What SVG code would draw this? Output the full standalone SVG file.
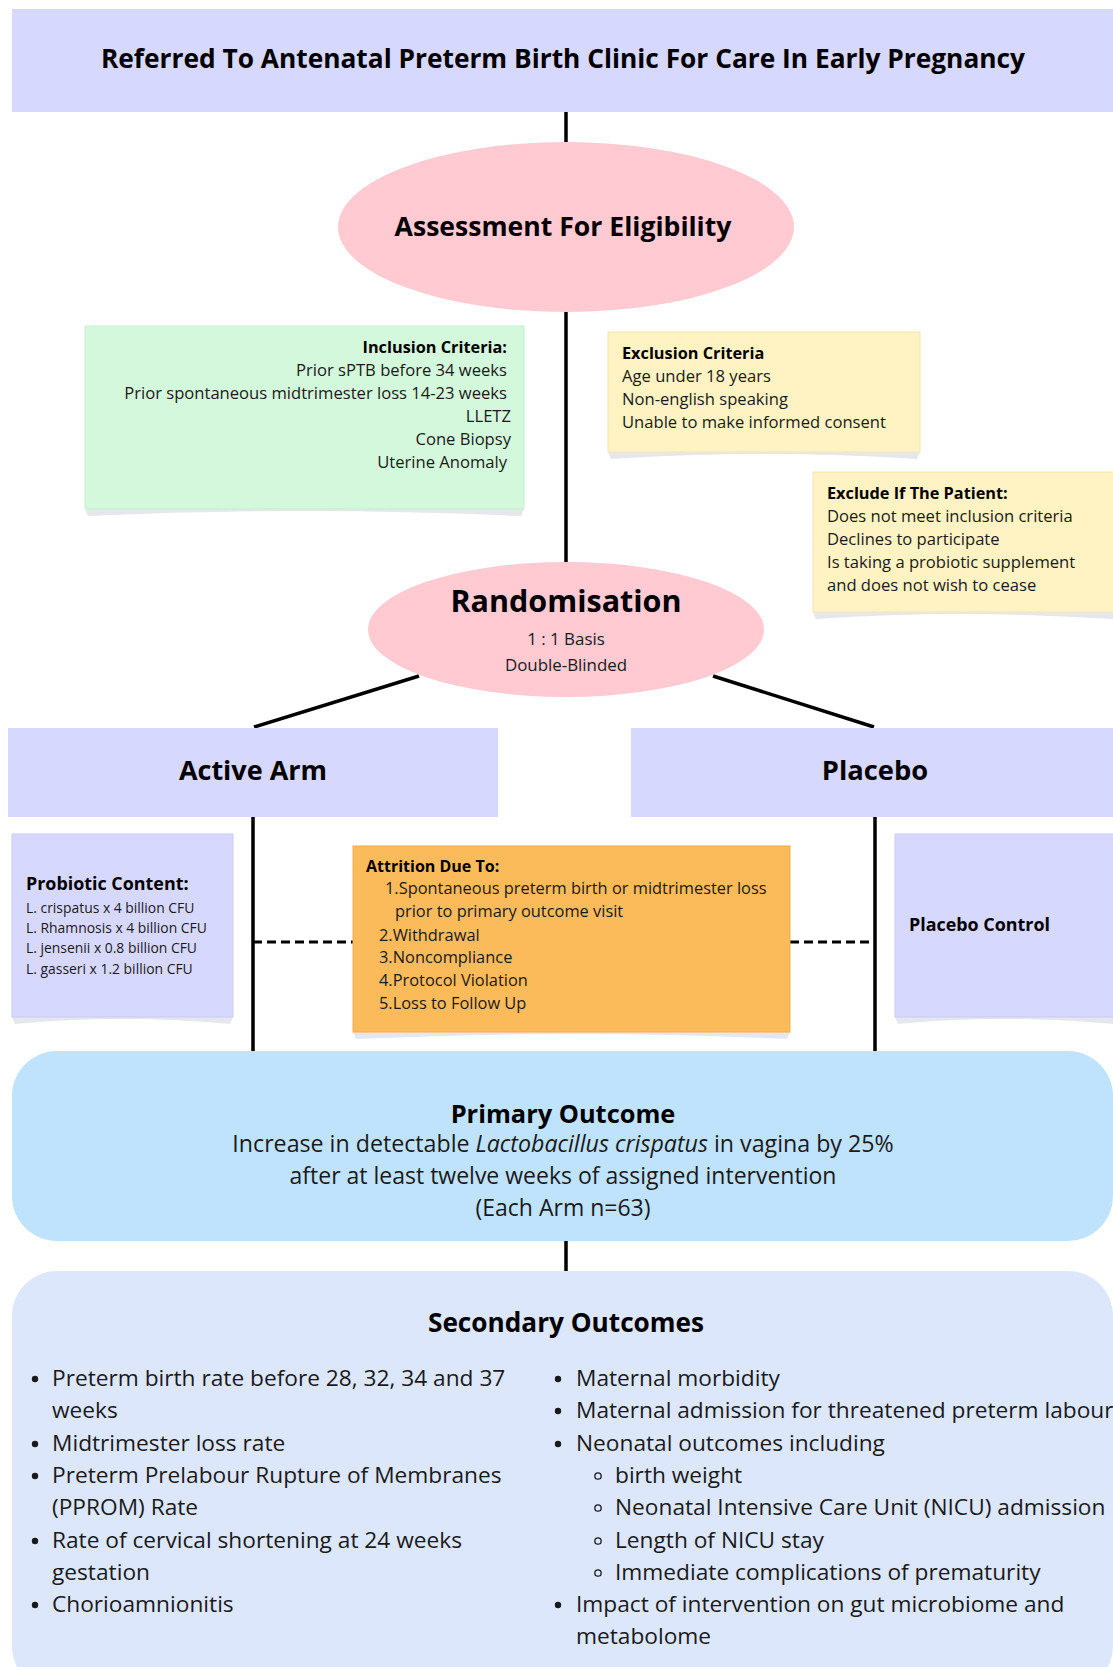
<svg xmlns="http://www.w3.org/2000/svg" width="1113" height="1667" viewBox="0 0 1113 1667">
<style>
text{font-family:"Open Sans","Liberation Sans",Arial,sans-serif;fill:#1a1a1a}
.b{font-weight:bold;fill:#000}
.c{text-anchor:middle}
.e{text-anchor:end}
.ln{stroke:#000;stroke-width:3.5;fill:none}
.dash{stroke:#000;stroke-width:3;stroke-dasharray:9 5;fill:none}
.lav{fill:#D7D8FD}
.pink{fill:#FFCAD2}
.sh{fill:#E6E7EC}
.f16{font-size:16.6px}
.f22{font-size:22.7px}
</style>
<g id="connectors">
<line class="ln" x1="566" y1="112" x2="566" y2="142"/>
<line class="ln" x1="566" y1="312" x2="566" y2="562"/>
<line class="ln" x1="419" y1="676" x2="254" y2="727"/>
<line class="ln" x1="713" y1="676" x2="874" y2="727"/>
<line class="ln" x1="253" y1="817" x2="253" y2="1051"/>
<line class="ln" x1="875" y1="817" x2="875" y2="1051"/>
<line class="dash" x1="253" y1="942" x2="353" y2="942"/>
<line class="dash" x1="790" y1="942" x2="875" y2="942"/>
<line class="ln" x1="566" y1="1241" x2="566" y2="1271"/>
</g>
<g id="referred">
<rect class="lav" x="12" y="9" width="1101" height="103"/>
<text class="b c" x="563" y="68" font-size="26.3">Referred To Antenatal Preterm Birth Clinic For Care In Early Pregnancy</text>
</g>
<g id="assessment">
<ellipse class="pink" cx="566" cy="227" rx="228" ry="85"/>
<text class="b c" x="563" y="236" font-size="26.6">Assessment For Eligibility</text>
</g>
<g id="inclusion">
<path class="sh" d="M85 509 L524 509 L521 516 Q304 506 88 516 Z"/>
<rect x="85" y="326" width="439" height="183" fill="#D4F8DB" stroke="#C6EFCF" stroke-width="1"/>
<text class="b e" x="507" y="353" font-size="16.3">Inclusion Criteria:</text>
<text class="e f16" x="507" y="376">Prior sPTB before 34 weeks</text>
<text class="e f16" x="507" y="399">Prior spontaneous midtrimester loss 14-23 weeks</text>
<text class="e f16" x="511" y="422">LLETZ</text>
<text class="e f16" x="511" y="445">Cone Biopsy</text>
<text class="e f16" x="507" y="468">Uterine Anomaly</text>
</g>
<g id="exclusion">
<path class="sh" d="M608 452 L920 452 L917 459 Q764 449 611 459 Z"/>
<rect x="608" y="332" width="312" height="120" fill="#FFF3C3" stroke="#F5E6AE" stroke-width="1"/>
<text class="b" x="622" y="359" font-size="16.3">Exclusion Criteria</text>
<text class="f16" x="622" y="382">Age under 18 years</text>
<text class="f16" x="622" y="405">Non-english speaking</text>
<text class="f16" x="622" y="428">Unable to make informed consent</text>
</g>
<g id="exclude">
<path class="sh" d="M813 612 L1113 612 L1113 619 Q960 609 816 619 Z"/>
<rect x="813" y="472" width="310" height="140" fill="#FFF3C3" stroke="#F5E6AE" stroke-width="1"/>
<text class="b" x="827" y="499" font-size="16.3">Exclude If The Patient:</text>
<text class="f16" x="827" y="522">Does not meet inclusion criteria</text>
<text class="f16" x="827" y="545">Declines to participate</text>
<text class="f16" x="827" y="568">Is taking a probiotic supplement</text>
<text class="f16" x="827" y="591">and does not wish to cease</text>
</g>
<g id="randomisation">
<ellipse class="pink" cx="566" cy="629.5" rx="198" ry="67.5"/>
<text class="b c" x="566" y="612" font-size="30.5">Randomisation</text>
<text class="c" x="566" y="645" font-size="16.9">1 : 1 Basis</text>
<text class="c" x="566" y="671" font-size="16.9">Double-Blinded</text>
</g>
<g id="active-arm">
<rect class="lav" x="8" y="728" width="490" height="89"/>
<text class="b c" x="253" y="780" font-size="27">Active Arm</text>
</g>
<g id="placebo">
<rect class="lav" x="631" y="728" width="482" height="89"/>
<text class="b c" x="875" y="780" font-size="27.3">Placebo</text>
</g>
<g id="probiotic">
<path class="sh" d="M12 1017 L233 1017 L230 1024 Q122 1014 15 1024 Z"/>
<rect class="lav" x="12" y="834" width="221" height="183" stroke="#C9CBF5" stroke-width="1"/>
<text class="b" x="26" y="890" font-size="17.9">Probiotic Content:</text>
<text x="26" y="913" font-size="13.9">L. crispatus x 4 billion CFU</text>
<text x="26" y="933" font-size="13.9">L. Rhamnosis x 4 billion CFU</text>
<text x="26" y="953" font-size="13.9">L. jensenii x 0.8 billion CFU</text>
<text x="26" y="974" font-size="13.9">L. gasseri x 1.2 billion CFU</text>
</g>
<g id="attrition">
<path class="sh" d="M353 1032 L790 1032 L787 1039 Q571 1029 356 1039 Z"/>
<rect x="353" y="846" width="437" height="186" fill="#FBBB5B" stroke="#F0AE4E" stroke-width="1"/>
<text class="b" x="366" y="872" font-size="16">Attrition Due To:</text>
<g font-size="16.4">
<text x="385" y="894">1.Spontaneous preterm birth or midtrimester loss</text>
<text x="395" y="917">prior to primary outcome visit</text>
<text x="379" y="941">2.Withdrawal</text>
<text x="379" y="963">3.Noncompliance</text>
<text x="379" y="986">4.Protocol Violation</text>
<text x="379" y="1009">5.Loss to Follow Up</text>
</g>
</g>
<g id="placebo-control">
<path class="sh" d="M895 1017 L1113 1017 L1113 1024 Q1000 1014 898 1024 Z"/>
<rect class="lav" x="895" y="834" width="228" height="183" stroke="#C9CBF5" stroke-width="1"/>
<text class="b" x="909" y="931" font-size="17.9">Placebo Control</text>
</g>
<g id="primary-outcome">
<rect x="12" y="1051" width="1101" height="190" rx="45" fill="#BFE3FD"/>
<text class="b c" x="563" y="1123" font-size="25.4">Primary Outcome</text>
<text class="c" x="563" y="1152" font-size="23.2">Increase in detectable <tspan font-style="italic">Lactobacillus crispatus</tspan> in vagina by 25%</text>
<text class="c" x="563" y="1184" font-size="23">after at least twelve weeks of assigned intervention</text>
<text class="c" x="563" y="1216" font-size="23">(Each Arm n=63)</text>
</g>
<g id="secondary-outcomes">
<rect x="12" y="1271" width="1101" height="420" rx="45" fill="#DCE7FB"/>
<text class="b c" x="566" y="1332" font-size="26.2">Secondary Outcomes</text>
<g fill="#1a1a1a">
<circle cx="35" cy="1379" r="3.2"/>
<circle cx="35" cy="1444" r="3.2"/>
<circle cx="35" cy="1476" r="3.2"/>
<circle cx="35" cy="1541" r="3.2"/>
<circle cx="35" cy="1605" r="3.2"/>
<circle cx="558" cy="1379" r="3.2"/>
<circle cx="558" cy="1411" r="3.2"/>
<circle cx="558" cy="1444" r="3.2"/>
<circle cx="558" cy="1605" r="3.2"/>
</g>
<g fill="none" stroke="#1a1a1a" stroke-width="1.3">
<circle cx="598" cy="1476" r="3.2"/>
<circle cx="598" cy="1508" r="3.2"/>
<circle cx="598" cy="1541" r="3.2"/>
<circle cx="598" cy="1573" r="3.2"/>
</g>
<text class="f22" x="52" y="1386">Preterm birth rate before 28, 32, 34 and 37</text>
<text class="f22" x="52" y="1418">weeks</text>
<text class="f22" x="52" y="1451">Midtrimester loss rate</text>
<text class="f22" x="52" y="1483">Preterm Prelabour Rupture of Membranes</text>
<text class="f22" x="52" y="1515">(PPROM) Rate</text>
<text class="f22" x="52" y="1548">Rate of cervical shortening at 24 weeks</text>
<text class="f22" x="52" y="1580">gestation</text>
<text class="f22" x="52" y="1612">Chorioamnionitis</text>
<text class="f22" x="576" y="1386">Maternal morbidity</text>
<text class="f22" x="576" y="1418">Maternal admission for threatened preterm labour</text>
<text class="f22" x="576" y="1451">Neonatal outcomes including</text>
<text class="f22" x="615" y="1483">birth weight</text>
<text class="f22" x="615" y="1515">Neonatal Intensive Care Unit (NICU) admission</text>
<text class="f22" x="615" y="1548">Length of NICU stay</text>
<text class="f22" x="615" y="1580">Immediate complications of prematurity</text>
<text class="f22" x="576" y="1612">Impact of intervention on gut microbiome and</text>
<text class="f22" x="576" y="1644">metabolome</text>
</g>
</svg>
